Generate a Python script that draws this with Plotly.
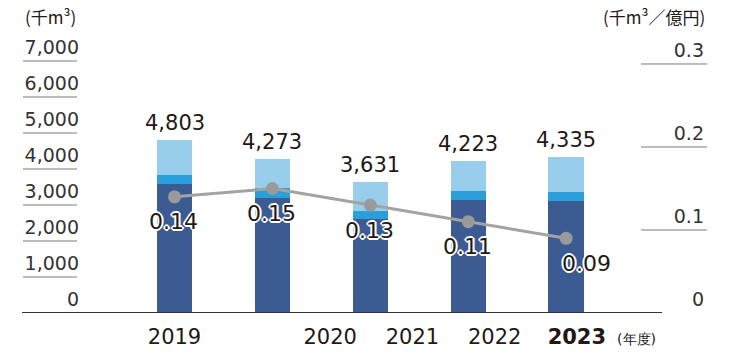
import plotly.graph_objects as go

years = ["2019", "2020", "2021", "2022", "2023"]
dark_vals = [3590, 3200, 2600, 3150, 3120]
mid_vals = [250, 280, 245, 250, 250]
light_vals = [963, 793, 786, 823, 965]
intensity = [0.14, 0.15, 0.13, 0.11, 0.09]
intensity_text = ["0.14", "0.15", "0.13", "0.11", "0.09"]
left_ticks = [0, 1000, 2000, 3000, 4000, 5000, 6000, 7000]
right_ticks = [0, 0.1, 0.2, 0.3]

# layout constants (label placement as in the original artwork)
year_label_x = [0, 1.59, 2.43, 3.27, 4.11]
unit_label_x = 4.72

xs = list(range(len(years)))
totals = [d + m + l for d, m, l in zip(dark_vals, mid_vals, light_vals)]

FONT = "DejaVu Sans"
TXT = "#231815"
C_DARK = "#3c5b92"
C_MID = "#2a9fd9"
C_LIGHT = "#99cdec"
HALO = ("1px 1px 0 #fff, -1px -1px 0 #fff, 1px -1px 0 #fff, -1px 1px 0 #fff, "
        "2px 0 0 #fff, -2px 0 0 #fff, 0 2px 0 #fff, 0 -2px 0 #fff")

fig = go.Figure()
for vals, col in [(dark_vals, C_DARK), (mid_vals, C_MID), (light_vals, C_LIGHT)]:
    fig.add_trace(go.Bar(x=xs, y=vals, marker=dict(color=col, line=dict(width=0)),
                         hoverinfo="skip", showlegend=False))

fig.add_trace(go.Scatter(
    x=xs, y=intensity, yaxis="y2", mode="lines+markers",
    line=dict(color="#a3a3a3", width=3),
    marker=dict(size=13, color="#9a9a9a"),
    hoverinfo="skip", showlegend=False, cliponaxis=False))

W, H = 730, 360
ml, mr, mt, mb = 22, 23, 35, 47
pw = W - ml - mr
ph = H - mt - mb
y_top = 7000 * ph / 252
y2_top = 0.3036 * ph / 252

def px2paper(px):
    return (px - ml) / pw

shapes = []
for v in left_ticks[1:]:
    shapes.append(dict(type="line", xref="paper", yref="y", x0=px2paper(23), x1=px2paper(77),
                       y0=v, y1=v, line=dict(color="#7a7a7a", width=1)))
for v in right_ticks[1:]:
    shapes.append(dict(type="line", xref="paper", yref="y2", x0=px2paper(641), x1=1,
                       y0=v, y1=v, line=dict(color="#7a7a7a", width=1)))
shapes.append(dict(type="line", xref="paper", yref="y", x0=0, x1=px2paper(662),
                   y0=0, y1=0, line=dict(color="#333333", width=2)))

annotations = []
for x, t in zip(xs, totals):
    annotations.append(dict(x=x, y=t, xref="x", yref="y", text=f"{t:,}", showarrow=False,
                            xanchor="center", yanchor="middle", yshift=17,
                            font=dict(family=FONT, size=21, color=TXT)))
for i, (x, v, s) in enumerate(zip(xs, intensity, intensity_text)):
    last = i == len(xs) - 1
    annotations.append(dict(x=x, y=v, xref="x", yref="y2", text=s, showarrow=False,
                            xanchor="left" if last else "center", yanchor="middle",
                            xshift=-6 if last else -1, yshift=-25,
                            font=dict(family=FONT, size=22, color=TXT, shadow=HALO)))
title_y = (H - mb - 17) / ph
annotations += [
    dict(text="(千m³)", xref="paper", yref="paper", x=px2paper(23), y=title_y,
         xanchor="left", yanchor="middle", showarrow=False,
         font=dict(family="Noto Sans CJK JP", size=17, color=TXT)),
    dict(text="(千m³／億円)", xref="paper", yref="paper", x=1, y=title_y,
         xanchor="right", yanchor="middle", showarrow=False,
         font=dict(family="Noto Sans CJK JP", size=17, color=TXT)),
]

fig.update_layout(
    width=W, height=H,
    margin=dict(l=ml, r=mr, t=mt, b=mb, autoexpand=False),
    paper_bgcolor="white", plot_bgcolor="white",
    barmode="stack", bargap=0.64,
    font=dict(family=FONT, color=TXT),
    xaxis=dict(range=[(22 - 174.5) / 97.9, (707 - 174.5) / 97.9],
               showgrid=False, zeroline=False, showline=False, automargin=False,
               tickmode="array",
               tickvals=year_label_x + [unit_label_x],
               ticktext=years[:-1] + ["<b>" + years[-1] + "</b>",
                                      "<span style='font-size:14px'>(年度)</span>"],
               tickfont=dict(family=FONT, size=21, color=TXT),
               ticks="", ticklabelstandoff=9),
    yaxis=dict(range=[0, y_top], anchor="free", position=px2paper(79),
               showgrid=False, zeroline=False, showline=False, automargin=False,
               tickmode="array", tickvals=left_ticks,
               ticktext=[f"{v:,}" for v in left_ticks],
               tickfont=dict(family=FONT, size=19, color="#333333"),
               ticks="", ticklabelshift=-14),
    yaxis2=dict(range=[0, y2_top], overlaying="y", side="right", anchor="x",
                showgrid=False, zeroline=False, showline=False, automargin=False,
                tickmode="array", tickvals=right_ticks,
                ticktext=["0", "0.1", "0.2", "0.3"],
                tickfont=dict(family=FONT, size=19, color="#333333"),
                ticks="", ticklabelposition="inside", ticklabelshift=-14),
    shapes=shapes,
    annotations=annotations,
)

fig.write_html("out.html", config={"displayModeBar": False},
               post_script="document.body.style.margin='0px';")
